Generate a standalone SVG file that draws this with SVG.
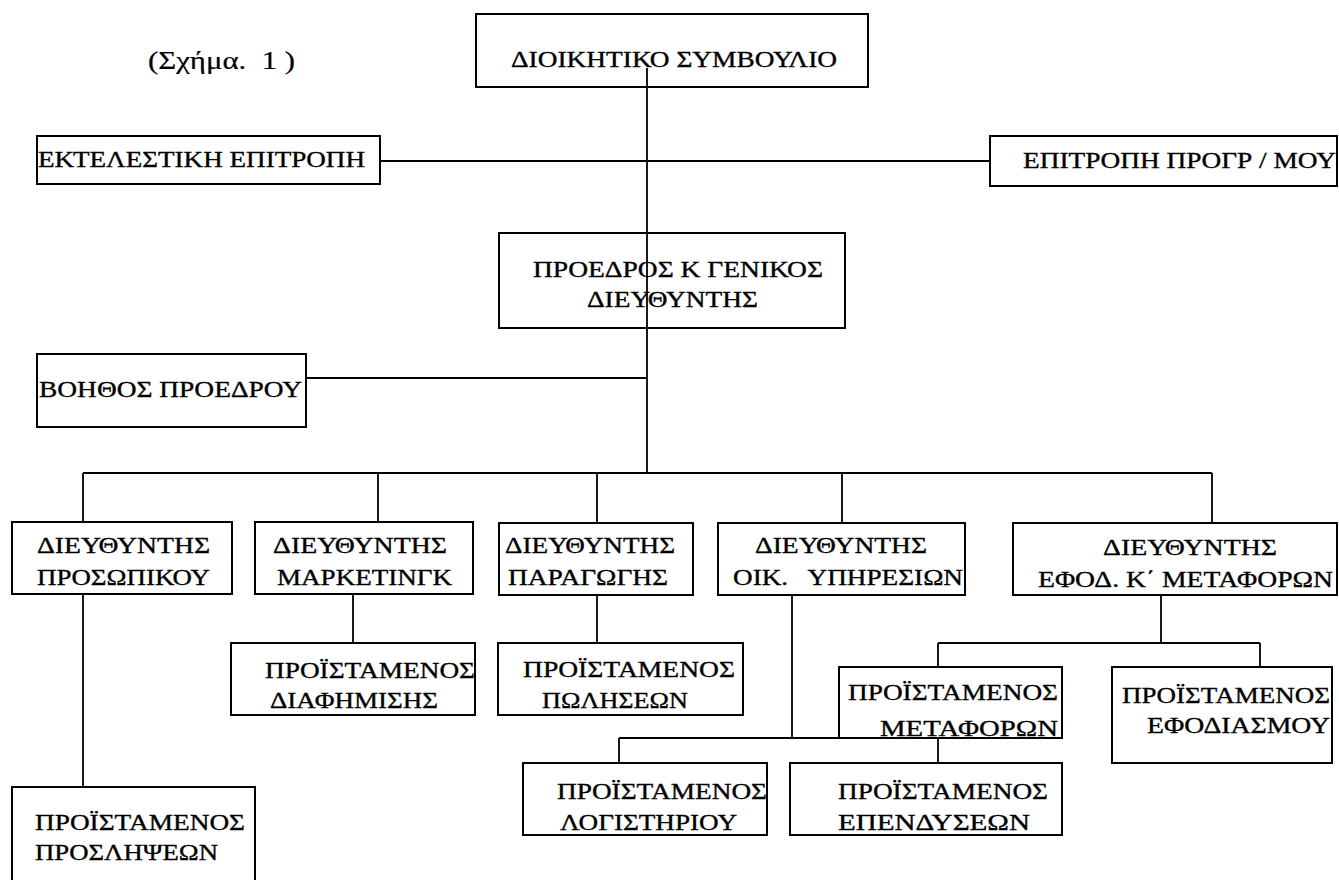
<svg xmlns="http://www.w3.org/2000/svg" width="1339" height="880" viewBox="0 0 1339 880">
  <style>
    .box { fill: none; stroke: #000; stroke-width: 2; }
    .t { font-family: "Liberation Serif", "Times New Roman", serif; font-size: 24px; fill: #000; stroke: #000; stroke-width: 0.35; }
    .title { font-family: "Liberation Serif", "Times New Roman", serif; font-size: 25px; fill: #000; stroke: #000; stroke-width: 0.2; }
    #connectors path { fill: none; stroke: #000; stroke-width: 1.8; }
  </style>
  <rect width="1339" height="880" fill="#fff"/>

  <text class="title" x="148" y="69" textLength="147" lengthAdjust="spacingAndGlyphs" xml:space="preserve">(Σχήμα.  1 )</text>

  <g id="board">
    <rect class="box" x="476" y="14" width="392" height="73"/>
    <text class="t" x="511" y="67" textLength="326" lengthAdjust="spacingAndGlyphs">ΔΙΟΙΚΗΤΙΚΟ ΣΥΜΒΟΥΛΙΟ</text>
  </g>
  <g id="executive-committee">
    <rect class="box" x="37" y="136" width="343" height="48"/>
    <text class="t" x="38" y="167" textLength="327" lengthAdjust="spacingAndGlyphs">ΕΚΤΕΛΕΣΤΙΚΗ ΕΠΙΤΡΟΠΗ</text>
  </g>
  <g id="planning-committee">
    <rect class="box" x="990" y="136" width="347" height="50"/>
    <text class="t" x="1023" y="168" textLength="313" lengthAdjust="spacingAndGlyphs">ΕΠΙΤΡΟΠΗ ΠΡΟΓΡ / ΜΟΥ</text>
  </g>
  <g id="president">
    <rect class="box" x="499" y="233" width="346" height="95"/>
    <text class="t" x="533" y="277" textLength="290" lengthAdjust="spacingAndGlyphs">ΠΡΟΕΔΡΟΣ Κ ΓΕΝΙΚΟΣ</text>
    <text class="t" x="587" y="307" textLength="171" lengthAdjust="spacingAndGlyphs">ΔΙΕΥΘΥΝΤΗΣ</text>
  </g>
  <g id="assistant">
    <rect class="box" x="37" y="354" width="269" height="73"/>
    <text class="t" x="39" y="397" textLength="263" lengthAdjust="spacingAndGlyphs">ΒΟΗΘΟΣ ΠΡΟΕΔΡΟΥ</text>
  </g>
  <g id="dir-personnel">
    <rect class="box" x="12" y="522" width="220" height="72"/>
    <text class="t" x="37" y="553" textLength="173" lengthAdjust="spacingAndGlyphs">ΔΙΕΥΘΥΝΤΗΣ</text>
    <text class="t" x="37" y="585" textLength="173" lengthAdjust="spacingAndGlyphs">ΠΡΟΣΩΠΙΚΟΥ</text>
  </g>
  <g id="dir-marketing">
    <rect class="box" x="255" y="522" width="218" height="72"/>
    <text class="t" x="273" y="553" textLength="174" lengthAdjust="spacingAndGlyphs">ΔΙΕΥΘΥΝΤΗΣ</text>
    <text class="t" x="277" y="585" textLength="175" lengthAdjust="spacingAndGlyphs">ΜΑΡΚΕΤΙΝΓΚ</text>
  </g>
  <g id="dir-production">
    <rect class="box" x="499" y="523" width="194" height="72"/>
    <text class="t" x="505" y="553" textLength="170" lengthAdjust="spacingAndGlyphs">ΔΙΕΥΘΥΝΤΗΣ</text>
    <text class="t" x="508" y="585" textLength="160" lengthAdjust="spacingAndGlyphs">ΠΑΡΑΓΩΓΗΣ</text>
  </g>
  <g id="dir-finance">
    <rect class="box" x="718" y="523" width="247" height="72"/>
    <text class="t" x="755" y="553" textLength="172" lengthAdjust="spacingAndGlyphs">ΔΙΕΥΘΥΝΤΗΣ</text>
    <text class="t" x="733" y="585" textLength="230" lengthAdjust="spacingAndGlyphs" xml:space="preserve">ΟΙΚ.   ΥΠΗΡΕΣΙΩΝ</text>
  </g>
  <g id="dir-supply">
    <rect class="box" x="1013" y="523" width="324" height="72"/>
    <text class="t" x="1103" y="555" textLength="174" lengthAdjust="spacingAndGlyphs">ΔΙΕΥΘΥΝΤΗΣ</text>
    <text class="t" x="1038" y="587" textLength="295" lengthAdjust="spacingAndGlyphs">ΕΦΟΔ. Κ΄ ΜΕΤΑΦΟΡΩΝ</text>
  </g>
  <g id="head-advertising">
    <rect class="box" x="231" y="643" width="244" height="72"/>
    <text class="t" x="265" y="678" textLength="210" lengthAdjust="spacingAndGlyphs">ΠΡΟΪΣΤΑΜΕΝΟΣ</text>
    <text class="t" x="270" y="708" textLength="168" lengthAdjust="spacingAndGlyphs">ΔΙΑΦΗΜΙΣΗΣ</text>
  </g>
  <g id="head-sales">
    <rect class="box" x="498" y="643" width="245" height="72"/>
    <text class="t" x="523" y="677" textLength="212" lengthAdjust="spacingAndGlyphs">ΠΡΟΪΣΤΑΜΕΝΟΣ</text>
    <text class="t" x="542" y="708" textLength="146" lengthAdjust="spacingAndGlyphs">ΠΩΛΗΣΕΩΝ</text>
  </g>
  <g id="head-transport">
    <rect class="box" x="839" y="667" width="223" height="71"/>
    <text class="t" x="848" y="700" textLength="210" lengthAdjust="spacingAndGlyphs">ΠΡΟΪΣΤΑΜΕΝΟΣ</text>
    <text class="t" x="880" y="736" textLength="178" lengthAdjust="spacingAndGlyphs">ΜΕΤΑΦΟΡΩΝ</text>
  </g>
  <g id="head-supply">
    <rect class="box" x="1112" y="667" width="220" height="96"/>
    <text class="t" x="1122" y="703" textLength="208" lengthAdjust="spacingAndGlyphs">ΠΡΟΪΣΤΑΜΕΝΟΣ</text>
    <text class="t" x="1147" y="733" textLength="183" lengthAdjust="spacingAndGlyphs">ΕΦΟΔΙΑΣΜΟΥ</text>
  </g>
  <g id="head-accounting">
    <rect class="box" x="523" y="763" width="244" height="72"/>
    <text class="t" x="557" y="799" textLength="210" lengthAdjust="spacingAndGlyphs">ΠΡΟΪΣΤΑΜΕΝΟΣ</text>
    <text class="t" x="560" y="830" textLength="177" lengthAdjust="spacingAndGlyphs">ΛΟΓΙΣΤΗΡΙΟΥ</text>
  </g>
  <g id="head-investments">
    <rect class="box" x="790" y="763" width="272" height="72"/>
    <text class="t" x="838" y="799" textLength="210" lengthAdjust="spacingAndGlyphs">ΠΡΟΪΣΤΑΜΕΝΟΣ</text>
    <text class="t" x="838" y="830" textLength="192" lengthAdjust="spacingAndGlyphs">ΕΠΕΝΔΥΣΕΩΝ</text>
  </g>
  <g id="head-hiring">
    <rect class="box" x="12" y="787" width="243" height="100"/>
    <text class="t" x="35" y="830" textLength="210" lengthAdjust="spacingAndGlyphs">ΠΡΟΪΣΤΑΜΕΝΟΣ</text>
    <text class="t" x="35" y="860" textLength="183" lengthAdjust="spacingAndGlyphs">ΠΡΟΣΛΗΨΕΩΝ</text>
  </g>

  <g id="connectors">
    <path d="M647 68 V473"/>
    <path d="M380 161 H990"/>
    <path d="M306 378 H647"/>
    <path d="M83 473 H1212"/>
    <path d="M83 473 V522 M378 473 V522 M597 473 V523 M842 473 V523 M1212 473 V523"/>
    <path d="M83 594 V787"/>
    <path d="M353 594 V643"/>
    <path d="M597 595 V643"/>
    <path d="M792 595 V738 M619 738 H839 M619 738 V763"/>
    <path d="M938 738 V763"/>
    <path d="M1161 595 V643 M938 643 H1260 M938 643 V667 M1260 643 V667"/>
  </g>
</svg>
